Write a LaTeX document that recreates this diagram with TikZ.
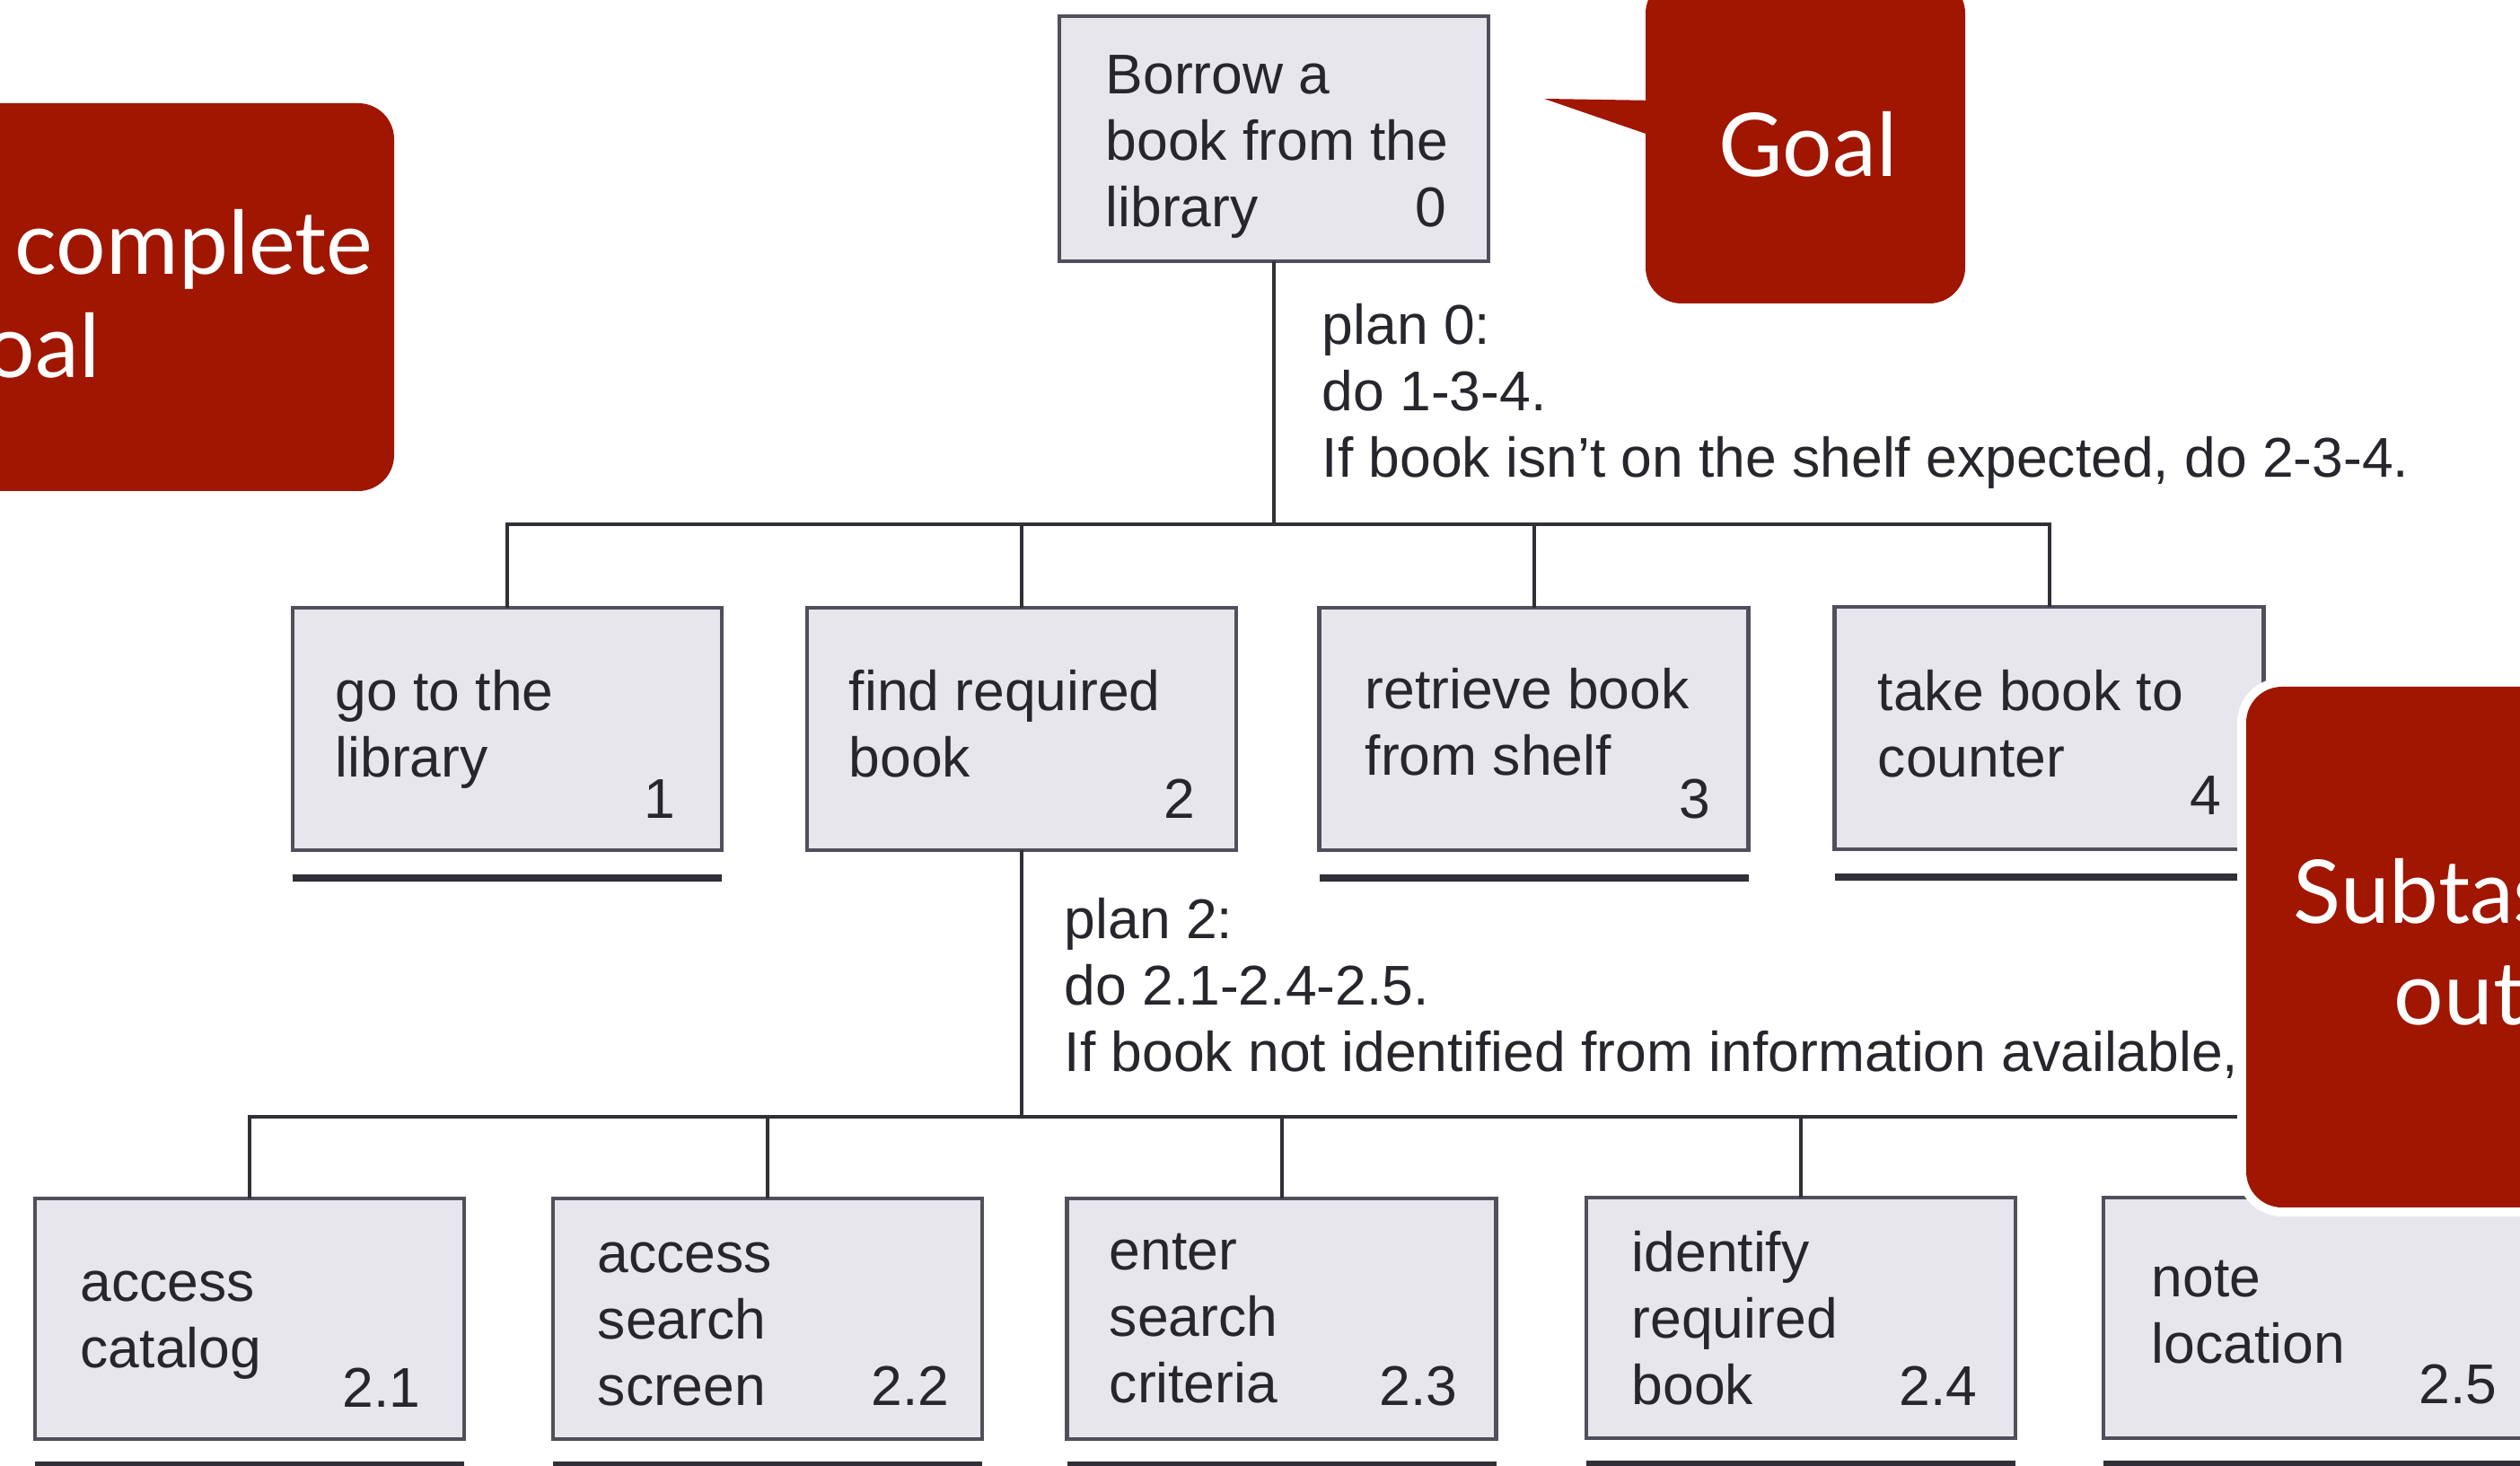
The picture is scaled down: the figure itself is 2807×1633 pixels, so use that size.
\documentclass[tikz,border=0pt]{standalone}
\usepackage{fontspec}
\setmainfont{Liberation Sans}
\newfontfamily\calloutfont{Lato}

\definecolor{boxfill}{RGB}{231,230,236}
\definecolor{boxline}{RGB}{80,80,92}
\definecolor{wire}{RGB}{48,48,54}
\definecolor{ink}{RGB}{38,38,44}
\definecolor{callred}{RGB}{160,22,0}

\begin{document}
\begin{tikzpicture}[x=0.25pt, y=-0.25pt,
  task/.style={draw=boxline, fill=boxfill, line width=1.1pt, minimum width=119.5pt,
    inner sep=0pt, outer sep=0pt},
  lvltop/.style={task, minimum height=68.25pt},
  lvlone/.style={task, minimum height=67.4pt},
  lvltwo/.style={task, minimum height=67pt},
  % multi-line labels are placed by the baseline of their last line
  tasktext/.style={anchor=base west, align=left, inner sep=0pt, text=ink,
    font=\fontsize{15.6}{18.5}\selectfont},
  tasknum/.style={anchor=base east, inner sep=0pt, text=ink,
    font=\fontsize{15.6}{18.5}\selectfont},
  link/.style={draw=wire, line width=1pt},
  stopline/.style={draw=wire, line width=2pt},
  halo/.style={fill=white, draw=white, line width=5pt, line join=round},
  bubble/.style={fill=callred},
  bubbletext/.style={anchor=base west, inner sep=0pt, text=white,
    font=\calloutfont\fontsize{24.5}{30}\selectfont},
]
\useasboundingbox (0,0) rectangle (2807,1633);
\clip (0,0) rectangle (2807,1633);
\fill[white] (0,0) rectangle (2807,1633);

% ---- task boxes ----
\node[lvltop] (T)  at (1419,154.5) {};
\node[lvlone] (B1) at (565,812) {};
\node[lvlone] (B2) at (1138,812) {};
\node[lvlone] (B3) at (1708.5,812) {};
\node[lvlone] (B4) at (2282.5,811) {};
\node[lvltwo] (C1) at (278,1469) {};
\node[lvltwo] (C2) at (855,1469) {};
\node[lvltwo] (C3) at (1427.5,1469) {};
\node[lvltwo] (C4) at (2006,1468) {};
\node[lvltwo] (C5) at (2582,1468) {};

% ---- hierarchy connectors ----
\coordinate (hub0) at (1419,584);
\coordinate (hub2) at (1138,1244);
\draw[link] (T.south) -- (hub0);
\draw[link] (B1.north) -- (B1.north |- hub0) -- (B4.north |- hub0) -- (B4.north);
\draw[link] (B2.north) -- (B2.north |- hub0);
\draw[link] (B3.north) -- (B3.north |- hub0);
\draw[link] (B2.south) -- (hub2);
\draw[link] (C1.north) -- (C1.north |- hub2) -- (C5.north |- hub2) -- (C5.north);
\draw[link] (C2.north) -- (C2.north |- hub2);
\draw[link] (C3.north) -- (C3.north |- hub2);
\draw[link] (C4.north) -- (C4.north |- hub2);

% ---- bars under tasks that are not decomposed further ----
\foreach \b in {B1,B3,B4}
  \draw[stopline] ([yshift=-7.75pt]\b.south west) -- ([yshift=-7.75pt]\b.south east);
\foreach \c in {C1,C2,C3,C4,C5}
  \draw[stopline] ([yshift=-7.2pt]\c.south west) -- ([yshift=-7.2pt]\c.south east);

% ---- task labels and numbers ----
\node[tasktext] (Ttxt) at (1231,253) {Borrow a\\book from the\\library};
\node[tasknum] (Tnum) at (1612,253) {0};

\node[tasktext] (B1txt) at (373,866) {go to the\\library};
\node[tasknum] (B1num) at (753,912) {1};
\node[tasktext] (B2txt) at (945,866) {find required\\book};
\node[tasknum] (B2num) at (1332,912) {2};
\node[tasktext] (B3txt) at (1520,864) {retrieve book\\from shelf};
\node[tasknum] (B3num) at (1906,912) {3};
\node[tasktext] (B4txt) at (2091,866) {take book to\\counter};
\node[tasknum] (B4num) at (2475,908) {4};

\node[tasktext] (C1txt) at (89,1524) {access\\catalog};
\node[tasknum] (C1num) at (469,1568) {2.1};
\node[tasktext] (C2txt) at (665,1566) {access\\search\\screen};
\node[tasknum] (C2num) at (1058,1566) {2.2};
\node[tasktext] (C3txt) at (1235,1563) {enter\\search\\criteria};
\node[tasknum] (C3num) at (1624,1566) {2.3};
\node[tasktext] (C4txt) at (1817,1565) {identify\\required\\book};
\node[tasknum] (C4num) at (2203,1566) {2.4};
\node[tasktext] (C5txt) at (2396,1519) {note\\location};
\node[tasknum] (C5num) at (2782,1564) {2.5};

% ---- plans ----
\node[tasktext] (plan0) at (1472,532)
  {plan 0:\\do 1-3-4.\\If book isn't on the shelf expected, do 2-3-4.};
\node[tasktext] (plan2) at (1185,1194)
  {plan 2:\\do 2.1-2.4-2.5.\\If book not identified from information available,};

% ---- callouts ----
% left
\path[halo, rounded corners=10pt] (-100,115) rectangle (439,547);
\path[bubble, rounded corners=10pt] (-100,115) rectangle (439,547);
\node[bubbletext] (leftw1) at (16,306) {complete};
\node[bubbletext, anchor=base east] (leftw2) at (112,421) {oal};

% goal, with pointer
\path[halo, rounded corners=10pt] (1833,-25) rectangle (2189,338);
\path[halo] (1720,110) -- (1845,112) -- (1845,153) -- cycle;
\path[bubble, rounded corners=10pt] (1833,-25) rectangle (2189,338);
\path[bubble] (1720,110) -- (1845,112) -- (1845,153) -- cycle;
\node[bubbletext] (goalw) at (1914,197) {Goal};

% subtasks
\path[halo, rounded corners=10pt] (2502,765) rectangle (2950,1345);
\path[bubble, rounded corners=10pt] (2502,765) rectangle (2950,1345);
\node[bubbletext] (subw1) at (2554,1029) {Subtas};
\node[bubbletext] (subw2) at (2666,1142) {out};
\end{tikzpicture}
\end{document}
